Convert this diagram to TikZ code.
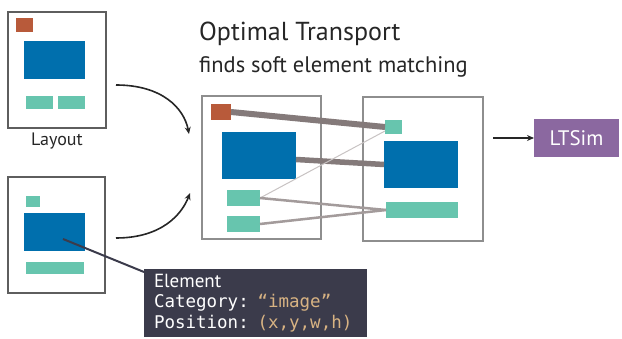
\documentclass[tikz,border=0pt]{standalone}
\usepackage{fontspec}
\setmainfont{PT Sans}
\setmonofont{DejaVu Sans Mono}
\usetikzlibrary{
  arrows.meta, % for the Stealth arrow tips
  positioning
}
\definecolor{elemred}{HTML}{B85A3A}
\definecolor{elemblue}{HTML}{006FAD}
\definecolor{elemteal}{HTML}{67C5AE}
\definecolor{pagegray}{HTML}{5E5E5E}
\definecolor{otgray}{HTML}{8E8E8E}
\definecolor{matchgray}{HTML}{847A7A}
\definecolor{infobg}{HTML}{3B3B4B}
\definecolor{infoval}{HTML}{D8B383}
\definecolor{simpurple}{HTML}{8B68A0}
\tikzset{
  box/.style={ % every rectangle is placed by its top left corner
    rectangle,inner sep=0pt,outer sep=0pt,anchor=north west,
  },
  page/.style={ % a layout page
    box,draw=pagegray,line width=2pt,fill=white,
  },
  otpage/.style={ % a page inside the transport step
    page,draw=otgray,
  },
  redel/.style={box,fill=elemred},
  blueel/.style={box,fill=elemblue},
  tealel/.style={box,fill=elemteal},
  label/.style={inner sep=0pt,text=black!85}, % plain texts
  conn/.style={ % black arrows
    -{Stealth[length=7pt,width=6pt]},
    line width=1.6pt,black!85,
  },
  match/.style={ % soft matching between elements
    matchgray,line cap=butt,
  },
}

\begin{document}
\begin{tikzpicture}[x=1pt,y=-1pt]
  \useasboundingbox (0,0) rectangle (622,339);
  % first layout
  \node[page, minimum width=98pt, minimum height=116pt] (lay1) at (8,12) {};
  \node[redel, minimum width=17pt, minimum height=14pt] (l1red) at (16,18) {};
  \node[blueel, minimum width=61pt, minimum height=38pt] (l1blue) at (24,41) {};
  \node[tealel, minimum width=27pt, minimum height=13pt] (l1teal1) at (26,96) {};
  \node[tealel, minimum width=27pt, minimum height=13pt] (l1teal2) at (58,96) {};
  \node[label, font=\fontsize{18}{21}\selectfont, anchor=base] (laylabel) at (57,146) {Layout};
  % second layout
  \node[page, minimum width=97pt, minimum height=116pt] (lay2) at (8,177) {};
  \node[tealel, minimum width=14pt, minimum height=11pt] (l2teal) at (26,196) {};
  \node[blueel, minimum width=61pt, minimum height=38pt] (l2blue) at (24,213) {};
  \node[tealel, minimum width=58pt, minimum height=12pt] (l2bar) at (26,262) {};
  % title
  \node[label, font=\fontsize{26}{30}\selectfont, anchor=base west] (ottitle) at (199,41) {Optimal Transport};
  \node[label, font=\fontsize{22.5}{26}\selectfont, anchor=base west] (otsub) at (199,73) {finds soft element matching};
  % transport pages
  \node[otpage, minimum width=119pt, minimum height=143pt] (mpage) at (202,96) {};
  \node[otpage, minimum width=120pt, minimum height=144pt] (rpage) at (363,97) {};
  \node[redel, minimum width=20pt, minimum height=16pt] (mred) at (211,104) {};
  \node[blueel, minimum width=74pt, minimum height=47pt] (mblue) at (222,132) {};
  \node[tealel, minimum width=33pt, minimum height=16pt] (mteal1) at (227,190) {};
  \node[tealel, minimum width=33pt, minimum height=16pt] (mteal2) at (227,216) {};
  \node[tealel, minimum width=17pt, minimum height=14pt] (rteal) at (385,120) {};
  \node[blueel, minimum width=74pt, minimum height=47pt] (rblue) at (384,141) {};
  \node[tealel, minimum width=72pt, minimum height=16pt] (rbar) at (386,202) {};
  % matching
  \draw[match, line width=6pt] (mred.east) -- (rteal.west);
  \draw[match, line width=5.5pt] ([yshift=-4pt]mblue.east) -- (rblue.west);
  \draw[match, line width=1pt, matchgray!45] (mteal1.east) -- ([yshift=-4pt]rteal.west);
  \draw[match, line width=2.5pt, matchgray!75] (mteal1.east) -- (rbar.west);
  \draw[match, line width=2.5pt, matchgray!75] (mteal2.east) -- (rbar.west);
  % arrows into the transport step
  \coordinate (top in) at (116,85);
  \coordinate (top out) at (189,134);
  \coordinate (bot in) at (116,238);
  \coordinate (bot out) at (190,193);
  \draw[conn] (top in) .. controls (162,85) and (184,108) .. (top out);
  \draw[conn] (bot in) .. controls (162,238) and (182,214) .. (bot out);
  % result
  \node[box, fill=simpurple, minimum width=85pt, minimum height=38pt, text=white,
        font=\fontsize{21}{25}\selectfont] (ltsim) at (534,119) {LTSim};
  \draw[conn] ([xshift=10pt]rpage.east |- ltsim.west) -- (ltsim.west);
  % element description
  \coordinate (pick) at (63,239);
  \draw[line width=2pt, infobg] (pick) -- ([yshift=-3pt]144,269);
  \node[box, fill=infobg, text=white, align=left, inner sep=5pt, inner xsep=10pt,
        text width=203pt, font=\fontsize{17.5}{20.5}\selectfont] (info) at (144,269)
    {{\fontsize{19}{20.5}\selectfont Element}\\
     \texttt{Category: \textcolor{infoval}{“image”}}\\
     \texttt{Position: \textcolor{infoval}{(x,y,w,h)}}};
\end{tikzpicture}
\end{document}
